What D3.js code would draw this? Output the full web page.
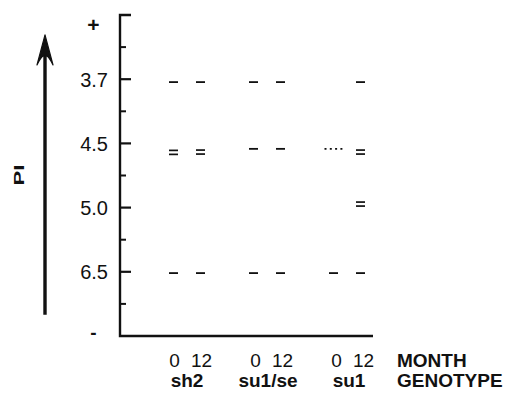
<!DOCTYPE html>
<html>
<head>
<meta charset="utf-8">
<script src="https://cdn.jsdelivr.net/npm/d3@7"></script>
<style>
  html, body { margin: 0; padding: 0; background: #fff; }
  svg { display: block; }
  text { font-family: "Liberation Sans", Arial, Helvetica, sans-serif; fill: #111; }
</style>
</head>
<body>
<svg id="chart" width="517" height="395"></svg>
<script>
// Lanes: genotype x storage month
const genotypes = ["sh2", "su1/se", "su1"];
const months = ["0", "12"];

// Gel position units: 0 = top of gel (+), 10 = bottom (-)
const pILabels = ["3.7", "4.5", "5.0", "6.5"];
const pIPositions = [2, 4, 6, 8];
const minorPositions = [1, 3, 5, 7, 9];
const poleLabels = ["+", "-"];
const polePositions = [0.31, 9.9];

// Bands per lane: genotype, month, gel position, band type
const bandGenotype = ["sh2", "sh2", "sh2", "sh2", "sh2", "sh2",
  "su1/se", "su1/se", "su1/se", "su1/se", "su1/se", "su1/se",
  "su1", "su1", "su1", "su1", "su1", "su1"];
const bandMonth = ["0", "0", "0", "12", "12", "12",
  "0", "0", "0", "12", "12", "12",
  "0", "0", "12", "12", "12", "12"];
const bandPosition = [2.09, 4.28, 8.04, 2.09, 4.27, 8.04,
  2.09, 4.17, 8.04, 2.09, 4.17, 8.04,
  4.17, 8.04, 2.09, 4.27, 5.89, 8.04];
const bandType = ["single", "double", "single", "single", "double", "single",
  "single", "single", "single", "single", "single", "single",
  "dotted", "single", "single", "double", "double", "single"];

const svg = d3.select("#chart");
const ink = "#111";

const axisX = 120, plotRight = 373;
const y = d3.scaleLinear().domain([0, 10]).range([15, 336]);
const gx = d3.scalePoint().domain(genotypes).range([187, 347]);
const mOff = d3.scalePoint().domain(months).range([-13.5, 13.5]);
const laneX = (g, m) => gx(g) + mOff(m);
// text columns under the lanes
const labelX = d3.scalePoint().domain(genotypes).range([188, 350]);

// Vertical axis with a cap at the top
svg.append("path")
  .attr("d", `M${axisX + 11},${y(0)} H${axisX} V${y(10)} H${plotRight}`)
  .attr("fill", "none").attr("stroke", ink).attr("stroke-width", 2.4);

svg.selectAll("line.minor").data(minorPositions).join("line")
  .attr("class", "minor")
  .attr("x1", axisX).attr("x2", axisX + 6)
  .attr("y1", d => y(d)).attr("y2", d => y(d))
  .attr("stroke", ink).attr("stroke-width", 2);

svg.selectAll("line.major").data(pIPositions).join("line")
  .attr("class", "major")
  .attr("x1", axisX).attr("x2", axisX + 11)
  .attr("y1", d => y(d)).attr("y2", d => y(d))
  .attr("stroke", ink).attr("stroke-width", 2.2);

svg.selectAll("text.pi").data(pILabels).join("text")
  .attr("class", "pi")
  .attr("x", 108).attr("y", (d, i) => y(pIPositions[i]) + 7.5)
  .attr("text-anchor", "end").attr("font-size", 20)
  .text(d => d);

svg.selectAll("text.pole").data(poleLabels).join("text")
  .attr("class", "pole")
  .attr("x", 93.5).attr("y", (d, i) => y(polePositions[i]) + (i === 0 ? 7 : 6))
  .attr("text-anchor", "middle").attr("font-weight", "bold")
  .attr("font-size", (d, i) => i === 0 ? 21 : 19)
  .text(d => d);

// Direction arrow and its label
const arrowX = 45;
svg.append("line")
  .attr("x1", arrowX).attr("x2", arrowX)
  .attr("y1", y(9.34)).attr("y2", y(1.2))
  .attr("stroke", ink).attr("stroke-width", 3.4);
const tip = y(0.62);
svg.append("path")
  .attr("d", `M${arrowX},${tip} L${arrowX + 8},${tip + 30} Q${arrowX + 2},${tip + 18} ${arrowX},${tip + 22} Q${arrowX - 2},${tip + 18} ${arrowX - 8},${tip + 30} Z`)
  .attr("fill", ink).attr("stroke", ink).attr("stroke-width", 1.2).attr("stroke-linejoin", "round");

svg.append("text")
  .attr("transform", "translate(24,175) rotate(-90)")
  .attr("text-anchor", "middle").attr("font-weight", "bold")
  .attr("font-size", 15)
  .attr("textLength", 21).attr("lengthAdjust", "spacingAndGlyphs")
  .text("PI");

// Bands
const bands = bandPosition.map((p, i) => ({
  g: bandGenotype[i], m: bandMonth[i], pos: p, type: bandType[i]
}));
const bandW = 9;
const bandG = svg.append("g");
bands.forEach(b => {
  const cx = laneX(b.g, b.m);
  const cy = y(b.pos);
  if (b.type === "single") {
    bandG.append("line")
      .attr("x1", cx - bandW / 2).attr("x2", cx + bandW / 2)
      .attr("y1", cy).attr("y2", cy)
      .attr("stroke", ink).attr("stroke-width", 1.8);
  } else if (b.type === "double") {
    [-2, 2].forEach(dy => {
      bandG.append("line")
        .attr("x1", cx - bandW / 2).attr("x2", cx + bandW / 2)
        .attr("y1", cy + dy).attr("y2", cy + dy)
        .attr("stroke", ink).attr("stroke-width", 1.7);
    });
  } else {
    bandG.append("line")
      .attr("x1", cx - 9).attr("x2", cx + 9)
      .attr("y1", cy).attr("y2", cy)
      .attr("stroke", ink).attr("stroke-width", 1.8)
      .attr("stroke-dasharray", "2,3.3");
  }
});

// Lane labels
genotypes.forEach(g => {
  months.forEach(m => {
    svg.append("text")
      .attr("x", labelX(g) + mOff(m)).attr("y", 367)
      .attr("text-anchor", "middle").attr("font-size", 19)
      .text(m);
  });
  svg.append("text")
    .attr("x", labelX(g) - 1).attr("y", 387)
    .attr("text-anchor", "middle").attr("font-size", 19).attr("font-weight", "bold")
    .text(g);
});
svg.append("text").attr("x", 397).attr("y", 367)
  .attr("font-size", 19).attr("font-weight", "bold").text("MONTH");
svg.append("text").attr("x", 397).attr("y", 387)
  .attr("font-size", 19).attr("font-weight", "bold").text("GENOTYPE");
</script>
</body>
</html>
